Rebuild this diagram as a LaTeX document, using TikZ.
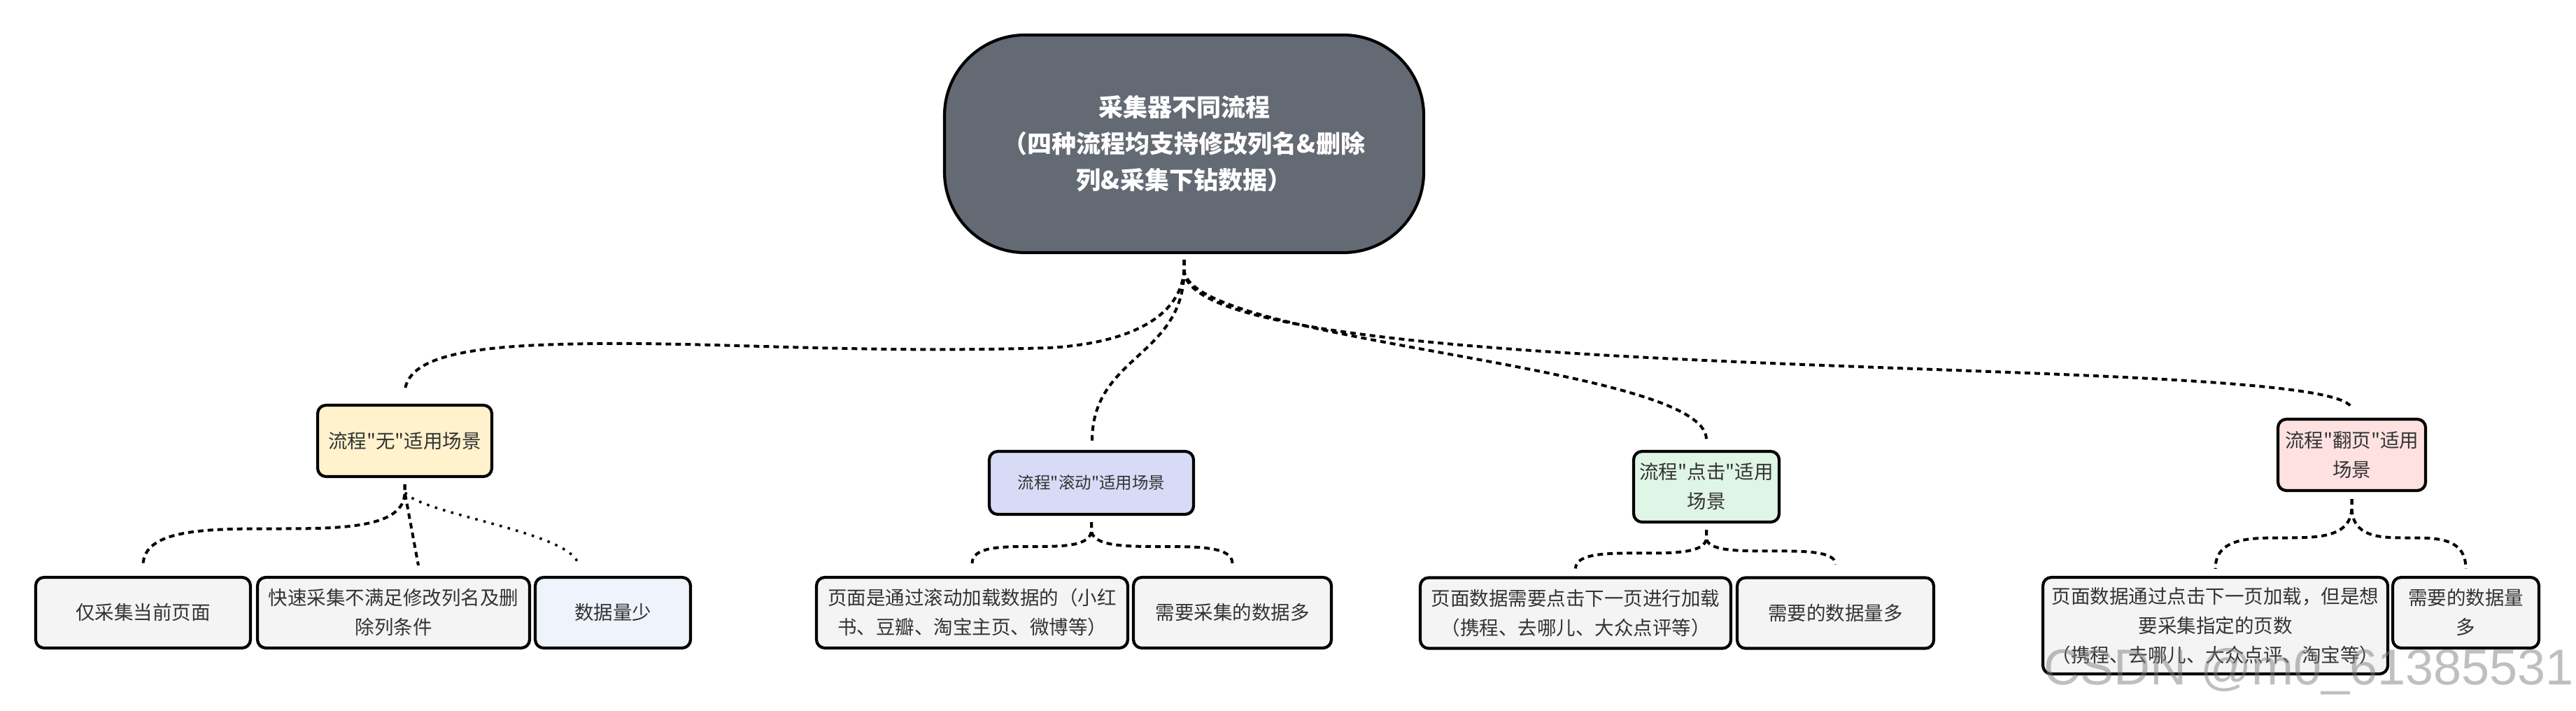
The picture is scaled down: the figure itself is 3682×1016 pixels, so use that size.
\documentclass[tikz,border=0pt]{standalone}
\usepackage{fontspec}
\setmainfont{Liberation Sans}
\newfontfamily\cjk{Noto Sans CJK SC}
\definecolor{rootfill}{RGB}{100,106,115}
\definecolor{cwu}{RGB}{255,242,204}
\definecolor{cgd}{RGB}{215,219,245}
\definecolor{cdj}{RGB}{223,245,229}
\definecolor{cfy}{RGB}{255,225,225}
\definecolor{leafgray}{RGB}{244,244,244}
\definecolor{leafblue}{RGB}{239,243,252}
\definecolor{txt}{RGB}{51,51,51}
\tikzset{
  box/.style={draw=black, line width=4.2pt, rounded corners=12pt, text=txt, align=center,
    inner sep=0pt, font=\cjk\fontsize{27.5}{42}\selectfont},
  rootbox/.style={draw=black, line width=4.2pt, rounded corners=115pt, fill=rootfill, text=white,
    align=center, inner sep=0pt, font=\cjk\bfseries\fontsize{35}{52}\selectfont},
  lvone/.style={box, minimum height=102pt},
  leaf/.style={box, fill=leafgray, minimum height=101pt},
  con/.style={draw=black, line width=4pt, dash pattern=on 8pt off 6pt},
  dotcon/.style={draw=black, line width=3.5pt, dash pattern=on 3.5pt off 8.5pt},
}
\begin{document}
\begin{tikzpicture}[x=1pt,y=-1pt]
\useasboundingbox (0,0) rectangle (3682,1016);

% root
\node[rootbox, minimum width=685pt, minimum height=311pt] (root) at (1692.5,205.5)
  {采集器不同流程\\（四种流程均支持修改列名\&删除\\列\&采集下钻数据）};

% level one
\node[lvone, fill=cwu, minimum width=249pt] (wu) at (578.5,630) {流程"无"适用场景};
\node[lvone, fill=cgd, minimum width=292pt, minimum height=90pt,
  font=\cjk\fontsize{23.5}{36}\selectfont] (gd) at (1560,690) {流程"滚动"适用场景};
\node[lvone, fill=cdj, minimum width=208pt, minimum height=101pt] (dj) at (2439,695.5) {流程"点击"适用\\场景};
\node[lvone, fill=cfy, minimum width=211pt] (fy) at (3361.5,650) {流程"翻页"适用\\场景};

% leaves
\node[leaf, minimum width=307pt] (l1a) at (204.5,875.5) {仅采集当前页面};
\node[leaf, minimum width=389pt] (l1b) at (562.5,875.5) {快速采集不满足修改列名及删\\除列条件};
\node[leaf, fill=leafblue, minimum width=222pt] (l1c) at (876,875.5) {数据量少};
\node[leaf, minimum width=445pt] (l2a) at (1389.5,875.5) {页面是通过滚动加载数据的（小红\\书、豆瓣、淘宝主页、微博等）};
\node[leaf, minimum width=283pt] (l2b) at (1761.5,875.5) {需要采集的数据多};
\node[leaf, minimum width=444pt] (l3a) at (2252,876) {页面数据需要点击下一页进行加载\\（携程、去哪儿、大众点评等）};
\node[leaf, minimum width=281pt] (l3b) at (2623.5,876) {需要的数据量多};
\node[leaf, minimum width=493pt, minimum height=138pt] (l4a) at (3166.5,894)
  {页面数据通过点击下一页加载，但是想\\要采集指定的页数\\（携程、去哪儿、大众点评、淘宝等）};
\node[leaf, minimum width=209pt] (l4b) at (3524.5,875.5) {需要的数据量\\多};

% root connectors
\draw[con] ([yshift=-8pt]root.south) -- ++(0,15)
  .. controls (1688,450) and (1620,490) .. (1500,497)
  .. controls (1200,506) and (1000,486) .. (800,492)
  .. controls (650,496) and (582,515) .. ([yshift=17pt]wu.north);
\draw[con] ([yshift=-8pt]root.south) -- ++(0,15)
  .. controls (1692,510) and (1561,508) .. ([xshift=1pt,yshift=13pt]gd.north);
\draw[con] ([yshift=-8pt]root.south) -- ++(0,15)
  .. controls (1700,490) and (2439,520) .. ([yshift=15pt]dj.north);
\draw[con] ([yshift=-8pt]root.south) -- ++(0,15)
  .. controls (1692,560) and (3361.5,500) .. ([yshift=12pt]fy.north);

% wu children
\draw[con] ([yshift=-9pt]wu.south) -- ++(0,11)
  .. controls (579,808) and (204.5,703) .. ([yshift=15pt]l1a.north);
\draw[con] ([yshift=-9pt]wu.south) -- ++(0,11) -- ([xshift=35.5pt,yshift=15pt]l1b.north);
\draw[dotcon] ([yshift=-9pt]wu.south) -- ++(0,11)
  .. controls (600,735) and (820,760) .. ([xshift=-49pt,yshift=15pt]l1c.north);

% gd children
\draw[con] ([yshift=-9pt]gd.south) -- ++(0,11)
  .. controls (1560,805) and (1389.5,757) .. ([yshift=18pt]l2a.north);
\draw[con] ([yshift=-9pt]gd.south) -- ++(0,11)
  .. controls (1560,805) and (1761.5,757) .. ([yshift=18pt]l2b.north);

% dj children
\draw[con] ([yshift=-9pt]dj.south) -- ++(0,11)
  .. controls (2439,813) and (2252,768) .. ([yshift=11pt]l3a.north);
\draw[con] ([yshift=-9pt]dj.south) -- ++(0,11)
  .. controls (2439,807) and (2623.5,768) .. ([yshift=17pt]l3b.north);

% fy children
\draw[con] ([yshift=-10pt]fy.south) -- ++(0,11)
  .. controls (3361.5,813) and (3166.5,724) .. ([yshift=10pt]l4a.north);
\draw[con] ([yshift=-10pt]fy.south) -- ++(0,11)
  .. controls (3361.5,813) and (3524.5,724) .. ([yshift=10pt]l4b.north);

% watermark
\node[anchor=base west, inner sep=0pt, font=\fontsize{72}{72}\selectfont, text=gray, opacity=0.5]
  (wm) at (2921,978) {CSDN @m0\_61385531};
\end{tikzpicture}
\end{document}
